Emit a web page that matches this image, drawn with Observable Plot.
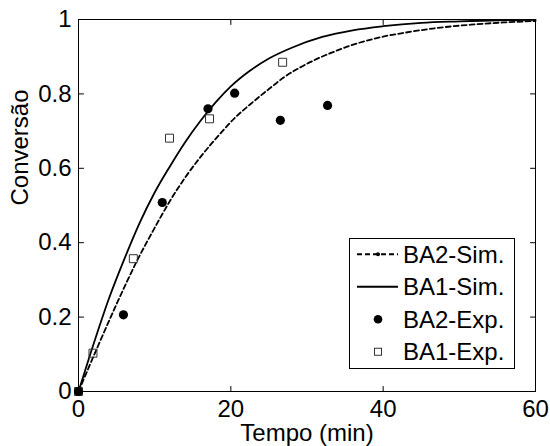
<!DOCTYPE html>
<html><head><meta charset="utf-8">
<script src="https://cdn.jsdelivr.net/npm/d3@7"></script>
<script src="https://cdn.jsdelivr.net/npm/@observablehq/plot@0.6"></script>
<style>html,body{margin:0;padding:0;background:#fff} svg{display:block}</style>
</head><body><div id="chart"></div>
<script>
// Simulated curves
const simBA1Time = [0, 1.7, 4, 6, 8, 10, 12, 14, 16, 18, 20, 22.5, 25, 28, 32, 36, 40, 45, 50, 55, 60];
const simBA1Conv = [0, 0.11, 0.25, 0.355, 0.452, 0.535, 0.605, 0.67, 0.727, 0.777, 0.82, 0.862, 0.895, 0.924, 0.953, 0.971, 0.982, 0.991, 0.995, 0.998, 0.999];
const simBA2Time = [0, 2.3, 5, 7.7, 10, 12, 14, 16, 18.6, 20.5, 22.6, 25, 27, 29, 31.3, 33.5, 35.7, 38, 40, 43, 47, 51.5, 55.8, 60];
const simBA2Conv = [0, 0.11, 0.235, 0.352, 0.44, 0.512, 0.575, 0.63, 0.693, 0.735, 0.773, 0.813, 0.845, 0.87, 0.894, 0.913, 0.930, 0.944, 0.954, 0.965, 0.977, 0.986, 0.992, 0.996];
// Experimental points
const expBA2Time = [0, 5.9, 11.0, 17.0, 20.5, 26.5, 32.7];
const expBA2Conv = [0, 0.206, 0.508, 0.760, 0.802, 0.729, 0.769];
const expBA1Time = [0, 1.9, 7.2, 11.95, 17.2, 26.8];
const expBA1Conv = [0, 0.103, 0.357, 0.681, 0.733, 0.885];
// Ticks and labels
const xTicks = [0, 20, 40, 60];
const yTicks = [0, 0.2, 0.4, 0.6, 0.8, 1];
const yTickLabels = ["0", "0.2", "0.4", "0.6", "0.8", "1"];
const xInnerTicks = [20, 40];
const yInnerTicks = [0.2, 0.4, 0.6, 0.8];
const legendLabels = ["BA2-Sim.", "BA1-Sim.", "BA2-Exp.", "BA1-Exp."];
const xLabel = "Tempo (min)";
const yLabel = "Conversão";

const W = 550, H = 446, mL = 78, mR = 15, mT = 19, mB = 55;
const FONT = "Arial, 'Liberation Sans', Helvetica, sans-serif";
const FS = 24;

const simBA1 = simBA1Time.map((t, i) => ({t, c: simBA1Conv[i]}));
const simBA2 = simBA2Time.map((t, i) => ({t, c: simBA2Conv[i]}));
const expBA1 = expBA1Time.map((t, i) => ({t, c: expBA1Conv[i]}));
const expBA2 = expBA2Time.map((t, i) => ({t, c: expBA2Conv[i]}));

const tickShape = {draw(context, l) { context.moveTo(0, 0); context.lineTo(0, -l); }};
const tickOpts = {length: 5, anchor: "start", shape: tickShape, stroke: "black", strokeWidth: 1};

const plot = Plot.plot({
  width: W, height: H,
  marginLeft: mL, marginRight: mR, marginTop: mT, marginBottom: mB,
  style: {fontFamily: FONT, fontSize: FS + "px", color: "black", background: "white"},
  x: {domain: [0, 60]},
  y: {domain: [0, 1]},
  marks: [
    Plot.axisX(xTicks, {anchor: "bottom", tickSize: 0, tickPadding: 8, label: null, fontSize: FS}),
    Plot.axisY(yTicks, {anchor: "left", tickSize: 0, tickPadding: 7, label: null, fontSize: FS,
      tickFormat: d => yTickLabels[yTicks.indexOf(d)]}),
    Plot.vector(xInnerTicks, {...tickOpts, x: d => d, y: () => 0, rotate: 0}),
    Plot.vector(xInnerTicks, {...tickOpts, x: d => d, y: () => 1, rotate: 180}),
    Plot.vector(yInnerTicks, {...tickOpts, y: d => d, x: () => 0, rotate: 90}),
    Plot.vector(yInnerTicks, {...tickOpts, y: d => d, x: () => 60, rotate: -90}),
    Plot.line(simBA2, {x: "t", y: "c", stroke: "black", strokeWidth: 1.8, strokeDasharray: "5,3", curve: "monotone-x"}),
    Plot.line(simBA1, {x: "t", y: "c", stroke: "black", strokeWidth: 1.8, curve: "monotone-x"}),
    Plot.dot(expBA1, {x: "t", y: "c", r: 4.5, symbol: "square", stroke: "#333", strokeWidth: 1, fill: "none"}),
    Plot.dot(expBA2, {x: "t", y: "c", r: 4.6, symbol: "circle", fill: "black", stroke: "none"}),
    Plot.frame({stroke: "black", strokeWidth: 1}),
    Plot.text([xLabel], {frameAnchor: "bottom", dy: 49, lineAnchor: "bottom", fontSize: FS, fill: "black"}),
    Plot.text([yLabel], {frameAnchor: "left", dx: -51, rotate: -90, lineAnchor: "bottom", fontSize: FS, fill: "black"})
  ]
});
document.getElementById("chart").appendChild(plot);

// Legend inside the plot frame (bottom right)
const svg = d3.select(plot);
const right = W - mR, bottom = H - mB;
const lw = 165, lh = 130;
const lx = right - 21 - lw, ly = bottom - 23 - lh;
const g = svg.append("g").attr("font-family", FONT).attr("font-size", FS).attr("text-anchor", "start");
g.append("rect").attr("x", lx + 0.5).attr("y", ly + 0.5).attr("width", lw).attr("height", lh)
  .attr("fill", "white").attr("stroke", "black").attr("stroke-width", 1);
const rowH = lh / legendLabels.length;
legendLabels.forEach((lab, i) => {
  const cy = ly + rowH / 2 + rowH * i;
  const mx = lx + 29;
  if (i === 0) {
    g.append("line").attr("x1", lx + 8).attr("x2", lx + 49).attr("y1", cy).attr("y2", cy)
      .attr("stroke", "black").attr("stroke-width", 1.8).attr("stroke-dasharray", "5,3");
    g.append("circle").attr("cx", mx).attr("cy", cy).attr("r", 2).attr("fill", "black");
  } else if (i === 1) {
    g.append("line").attr("x1", lx + 8).attr("x2", lx + 49).attr("y1", cy).attr("y2", cy)
      .attr("stroke", "black").attr("stroke-width", 1.8);
  } else if (i === 2) {
    g.append("circle").attr("cx", mx).attr("cy", cy).attr("r", 4.3).attr("fill", "black");
  } else {
    g.append("rect").attr("x", mx - 3.5).attr("y", cy - 3.5).attr("width", 7).attr("height", 7)
      .attr("fill", "none").attr("stroke", "#333").attr("stroke-width", 1);
  }
  g.append("text").attr("x", lx + 54).attr("y", cy).attr("dy", "0.36em")
    .attr("text-anchor", "start").attr("fill", "black").text(lab);
});
</script>
</body></html>
